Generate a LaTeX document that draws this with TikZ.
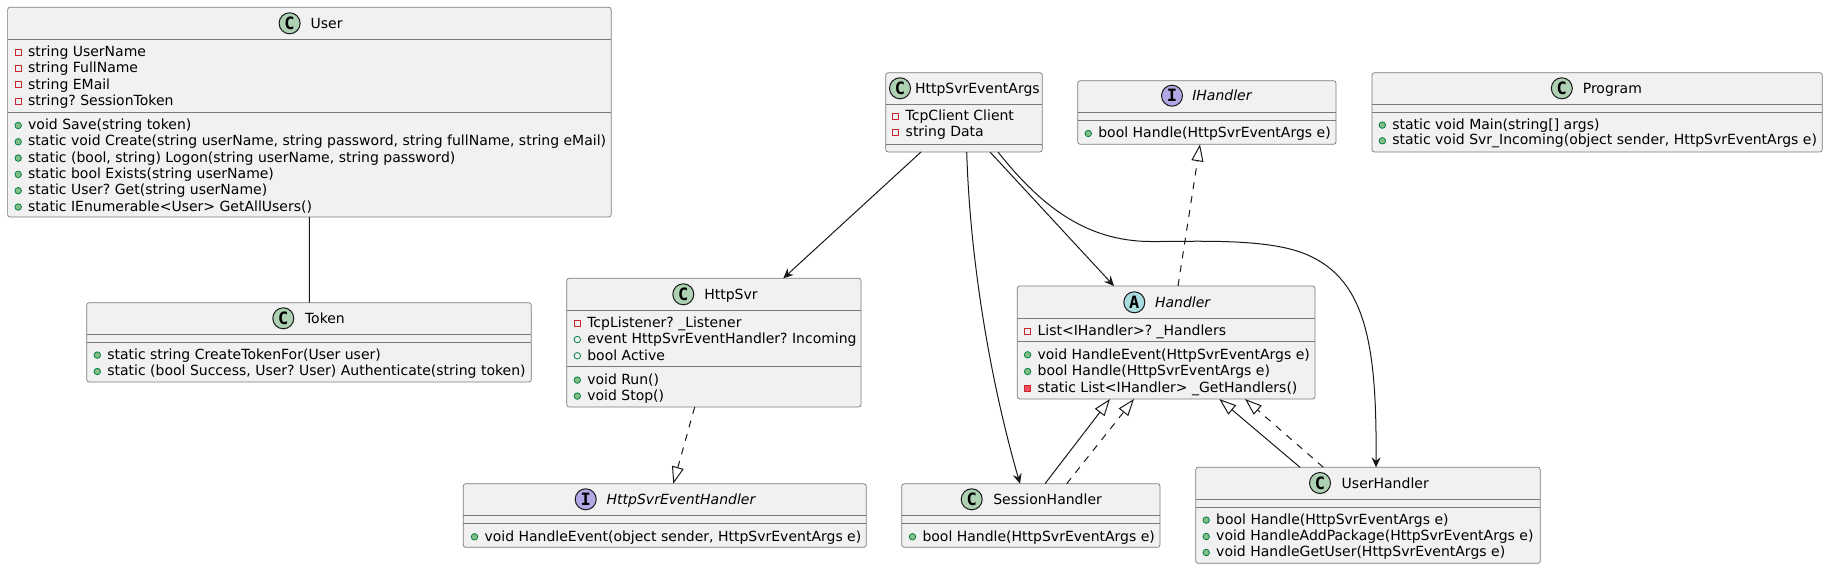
\documentclass[tikz,border=0pt]{standalone}
\usepackage{fontspec}
\setmainfont{DejaVu Sans}
\newfontfamily\spotfont{DejaVu Sans Mono}
\usetikzlibrary{arrows.meta}
\frenchspacing
\definecolor{cLine}{HTML}{181818}
\definecolor{cBorder}{HTML}{7A7A7A}
\definecolor{cBox}{HTML}{F1F1F1}
\definecolor{cC}{HTML}{ADD1B2}
\definecolor{cA}{HTML}{A9DCDF}
\definecolor{cI}{HTML}{B4A7E5}
\definecolor{cRed}{HTML}{C82930}
\definecolor{cRedF}{HTML}{F24D5C}
\definecolor{cGrn}{HTML}{038048}
\definecolor{cGrnF}{HTML}{84BE84}
\tikzset{
  box/.style={draw=cBorder, fill=cBox, line width=0.7pt, rounded corners=2.5pt, inner sep=0pt, outer sep=0pt},
  sepline/.style={draw=cBorder, line width=0.7pt},
  txt/.style={anchor=base west, inner sep=0pt, outer sep=0pt, font=\fontsize{14}{16}\selectfont\frenchspacing},
  ttl/.style={txt},
  ittl/.style={txt, font=\fontsize{14}{16}\selectfont\itshape},
  spot/.style={circle, draw=cLine, line width=1pt, minimum size=21pt, inner sep=0pt, font=\spotfont\bfseries\fontsize{17}{17}\selectfont},
  ipf/.style={rectangle, draw=cRed, line width=0.8pt, minimum size=6pt, inner sep=0pt},
  ipm/.style={rectangle, draw=cRed, fill=cRedF, line width=0.8pt, minimum size=6pt, inner sep=0pt},
  iuf/.style={circle, draw=cGrn, line width=0.8pt, minimum size=6.5pt, inner sep=0pt},
  ium/.style={circle, draw=cGrn, fill=cGrnF, line width=0.8pt, minimum size=6.5pt, inner sep=0pt},
  conn/.style={draw=cLine, line width=1pt},
  assoc/.style={conn, -{Stealth[length=10pt, width=9pt, inset=3.5pt]}},
  ext/.style={conn, -{Triangle[open, length=17pt, width=12pt]}},
  impl/.style={ext, dash pattern=on 7pt off 7pt},
}
\newcommand{\UmlBox}[5]{%
  \node[box, minimum width=#4pt, minimum height=#5pt, anchor=north west] (#1) at (#2,#3) {};}
\newcommand{\UmlRow}[5]{%
  \node[txt] (#1) at ({#2},{#3+5}) {#5};
  \node[#4] (#1i) at ({#2-10},{#3+0.8}) {};}
\newcommand{\UmlSep}[3]{\draw[sepline] (#1,#3) -- (#2,#3);}
\begin{document}
\begin{tikzpicture}[x=1pt, y=-1pt]
\useasboundingbox (0,0) rectangle (1828,569);

% ---------- User ----------
\UmlBox{user}{7.6}{7.3}{603.6}{209.7}
\UmlSep{7.6}{611.2}{39.3}
\UmlSep{7.6}{611.2}{112.3}
\node[spot, fill=cC] (user-s) at (289.6,23.3) {C};
\node[ttl] (user-t) at (310.6,28.3) {User};
\UmlRow{user-f1}{28.2}{51.7}{ipf}{string UserName}
\UmlRow{user-f2}{28.2}{67.9}{ipf}{string FullName}
\UmlRow{user-f3}{28.2}{84.1}{ipf}{string EMail}
\UmlRow{user-f4}{28.2}{100.3}{ipf}{string? SessionToken}
\UmlRow{user-m1}{28.2}{124.7}{ium}{void Save(string token)}
\UmlRow{user-m2}{28.2}{141}{ium}{static void Create(string userName, string password, string fullName, string eMail)}
\UmlRow{user-m3}{28.2}{157.3}{ium}{static (bool, string) Logon(string userName, string password)}
\UmlRow{user-m4}{28.2}{173.6}{ium}{static bool Exists(string userName)}
\UmlRow{user-m5}{28.2}{189.9}{ium}{static User? Get(string userName)}
\UmlRow{user-m6}{28.2}{206.2}{ium}{static IEnumerable<User> GetAllUsers()}

% ---------- Token ----------
\UmlBox{token}{86.7}{302.7}{444.6}{79.3}
\UmlSep{86.7}{531.3}{334.3}
\UmlSep{86.7}{531.3}{342.3}
\node[spot, fill=cC] (token-s) at (283.3,318.3) {C};
\node[ttl] (token-t) at (305,323.3) {Token};
\UmlRow{token-m1}{107.3}{354.3}{ium}{static string CreateTokenFor(User user)}
\UmlRow{token-m2}{107.3}{370.7}{ium}{static (bool Success, User? User) Authenticate(string token)}

% ---------- HttpSvrEventArgs ----------
\UmlBox{args}{885.7}{72.7}{156.6}{79.3}
\UmlSep{885.7}{1042.3}{104}
\UmlSep{885.7}{1042.3}{144}
\node[spot, fill=cC] (args-s) at (900,88.3) {C};
\node[ttl] (args-t) at (915,93.3) {HttpSvrEventArgs};
\UmlRow{args-f1}{905.7}{115.7}{ipf}{TcpClient Client}
\UmlRow{args-f2}{905.7}{132}{ipf}{string Data}

% ---------- IHandler ----------
\UmlBox{ihandler}{1077.7}{80.7}{258.3}{63.6}
\UmlSep{1077.7}{1336}{112.3}
\UmlSep{1077.7}{1336}{120.7}
\node[spot, fill=cI] (ihandler-s) at (1172,95.7) {I};
\node[ittl] (ihandler-t) at (1192.3,100.7) {IHandler};
\UmlRow{ihandler-m1}{1098.3}{132.7}{ium}{bool Handle(HttpSvrEventArgs e)}

% ---------- Program ----------
\UmlBox{program}{1371.9}{72.7}{450.4}{79.3}
\UmlSep{1371.9}{1822.3}{104}
\UmlSep{1371.9}{1822.3}{112.3}
\node[spot, fill=cC] (program-s) at (1561.8,88.3) {C};
\node[ttl] (program-t) at (1582.8,93.3) {Program};
\UmlRow{program-m1}{1392.3}{124.3}{ium}{static void Main(string[] args)}
\UmlRow{program-m2}{1392.3}{140}{ium}{static void Svr\_Incoming(object sender, HttpSvrEventArgs e)}

% ---------- HttpSvr ----------
\UmlBox{svr}{566.7}{278.3}{294.3}{128.7}
\UmlSep{566.7}{861}{310.3}
\UmlSep{566.7}{861}{366.7}
\node[spot, fill=cC] (svr-s) at (683.3,294.3) {C};
\node[ttl] (svr-t) at (704.3,299.3) {HttpSvr};
\UmlRow{svr-f1}{587.3}{322.3}{ipf}{TcpListener? \_Listener}
\UmlRow{svr-f2}{587.3}{338.7}{iuf}{event HttpSvrEventHandler? Incoming}
\UmlRow{svr-f3}{587.3}{355}{iuf}{bool Active}
\UmlRow{svr-m1}{587.3}{379.3}{ium}{void Run()}
\UmlRow{svr-m2}{587.3}{395.3}{ium}{void Stop()}

% ---------- HttpSvrEventHandler ----------
\UmlBox{heh}{463.3}{483.7}{403}{63.6}
\UmlSep{463.3}{866.3}{515.3}
\UmlSep{463.3}{866.3}{523.3}
\node[spot, fill=cI] (heh-s) at (585.7,499.3) {I};
\node[ittl] (heh-t) at (606.7,504.3) {HttpSvrEventHandler};
\UmlRow{heh-m1}{484.5}{536}{ium}{void HandleEvent(object sender, HttpSvrEventArgs e)}

% ---------- Handler ----------
\UmlBox{handler}{1017.3}{286}{297.7}{113}
\UmlSep{1017.3}{1315}{318.3}
\UmlSep{1017.3}{1315}{341.7}
\node[spot, fill=cA] (handler-s) at (1134.3,302.3) {A};
\node[ittl] (handler-t) at (1155,307.3) {Handler};
\UmlRow{handler-f1}{1037.6}{330.3}{ipf}{List<IHandler>? \_Handlers}
\UmlRow{handler-m1}{1037.6}{354}{ium}{void HandleEvent(HttpSvrEventArgs e)}
\UmlRow{handler-m2}{1037.6}{370.7}{ium}{bool Handle(HttpSvrEventArgs e)}
\UmlRow{handler-m3}{1037.6}{387.3}{ipm}{static List<IHandler> \_GetHandlers()}

% ---------- SessionHandler ----------
\UmlBox{sess}{901.7}{483.7}{258.3}{63.6}
\UmlSep{901.7}{1160}{515.3}
\UmlSep{901.7}{1160}{523.3}
\node[spot, fill=cC] (sess-s) at (971.7,499.3) {C};
\node[ttl] (sess-t) at (993.3,504.3) {SessionHandler};
\UmlRow{sess-m1}{922.5}{536}{ium}{bool Handle(HttpSvrEventArgs e)}

% ---------- UserHandler ----------
\UmlBox{uh}{1195.7}{467.3}{344.6}{96}
\UmlSep{1195.7}{1540.3}{499.3}
\UmlSep{1195.7}{1540.3}{507.3}
\node[spot, fill=cC] (uh-s) at (1320,483) {C};
\node[ttl] (uh-t) at (1341.7,488) {UserHandler};
\UmlRow{uh-m1}{1216.2}{519.3}{ium}{bool Handle(HttpSvrEventArgs e)}
\UmlRow{uh-m2}{1216.2}{535.7}{ium}{void HandleAddPackage(HttpSvrEventArgs e)}
\UmlRow{uh-m3}{1216.2}{551.7}{ium}{void HandleGetUser(HttpSvrEventArgs e)}

% ---------- connectors ----------
\draw[conn] ([xshift=301.8pt]user.south west) -- ([xshift=222.7pt]token.north west);
\draw[assoc] ([xshift=35.3pt]args.south west) -- ([xshift=216.6pt]svr.north west);
\draw[assoc] ([xshift=81pt]args.south west) .. controls (970,260) and (990,380) .. ([xshift=118.3pt]sess.north west);
\draw[assoc] ([xshift=104.3pt]args.south west) -- ([xshift=96.7pt]handler.north west);
\coordinate (w1) at (1150,241.5);
\coordinate (w2) at (1300,252);
\draw[assoc] ([xshift=112.3pt]args.south west) .. controls (1040,205) and (1085,241) .. (w1)
  .. controls (1190,241.8) and (1260,238) .. (w2)
  .. controls (1365,275) and (1377,340) .. ([xshift=180.3pt]uh.north west);
\draw[impl] ([xshift=160.7pt]handler.north west) -- ([xshift=122.3pt]ihandler.south west);
\draw[impl] ([xshift=128pt]svr.south west) -- ([xshift=210pt]heh.north west);
\draw[ext] ([xshift=143.3pt]sess.north west) -- ([xshift=92.7pt]handler.south west);
\draw[impl] ([xshift=165pt]sess.north west) -- ([xshift=116.7pt]handler.south west);
\draw[ext] ([xshift=104.3pt]uh.north west) -- ([xshift=202pt]handler.south west);
\draw[impl] ([xshift=127.6pt]uh.north west) -- ([xshift=227.7pt]handler.south west);
\end{tikzpicture}
\end{document}
